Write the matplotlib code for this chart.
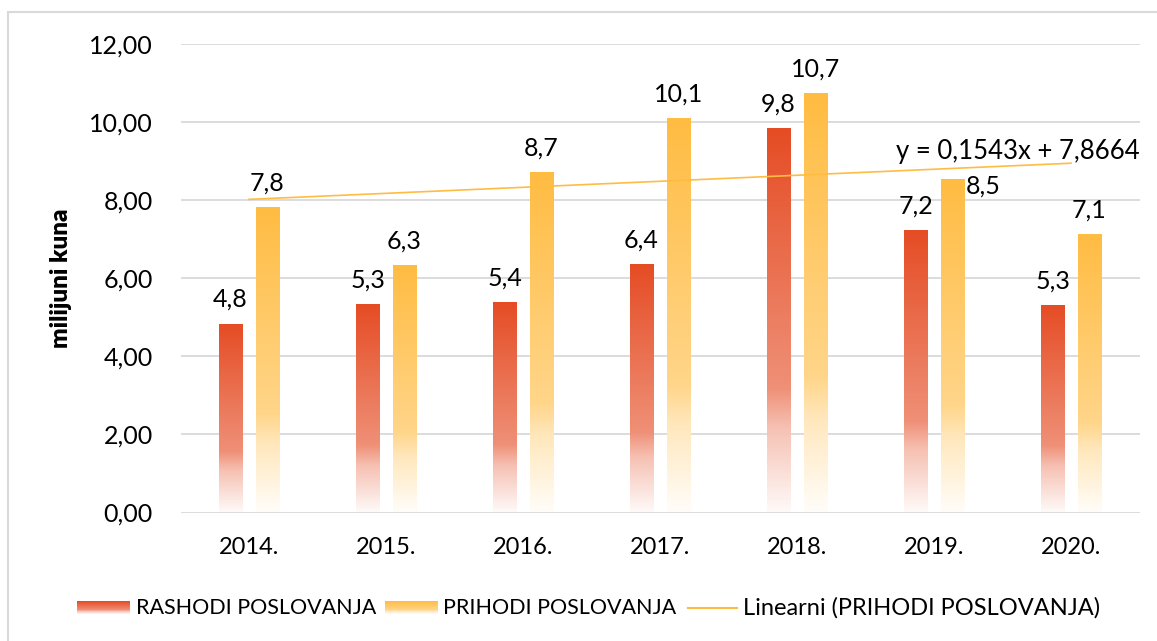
import numpy as np
import matplotlib
matplotlib.use("Agg")
import matplotlib.pyplot as plt
from matplotlib.patches import Rectangle

plt.rcParams['font.family'] = ['Lato', 'DejaVu Sans']

# data (milijuni kuna)
years = ['2014.', '2015.', '2016.', '2017.', '2018.', '2019.', '2020.']
rashodi = [4.84, 5.34, 5.38, 6.36, 9.84, 7.23, 5.32]
prihodi = [7.83, 6.33, 8.72, 10.10, 10.74, 8.53, 7.14]
trend_slope = 0.1543
trend_icept = 7.8664
yticks = [0, 2, 4, 6, 8, 10, 12]

RED = np.array([229, 76, 36]) / 255.
YEL = np.array([255, 188, 66]) / 255.


def gradient(base):
    # strong colour at top, fading to white at the bottom (Excel style)
    t = np.linspace(0, 1, 256)
    s = np.interp(t, [0, 0.22, 0.32, 1], [0.03, 0.35, 0.62, 1.0])
    rgb = (1 - s[:, None]) + s[:, None] * base[None, :]
    return rgb[:, None, :]


def fmt(v):
    return f"{v:.1f}".replace('.', ',')


fig = plt.figure(figsize=(11.57, 6.41), dpi=100)
ax = fig.add_axes([180.5 / 1157, 1 - 512.5 / 641, 959 / 1157, 468.5 / 641])

x = np.arange(len(years))
w = 0.168
off = 0.135

b1 = ax.bar(x - off, rashodi, w, facecolor='none', edgecolor='none', zorder=3)
b2 = ax.bar(x + off, prihodi, w, facecolor='none', edgecolor='none', zorder=3)

for bars, base in ((b1, RED), (b2, YEL)):
    img = gradient(base)
    for p in bars:
        x0, y0 = p.get_x(), p.get_y()
        im = ax.imshow(img, origin='lower', aspect='auto', zorder=2,
                       extent=[x0, x0 + p.get_width(), y0, y0 + p.get_height()],
                       interpolation='bilinear')
        im.set_clip_path(p)

# linear trend of PRIHODI (x = 1..7 in Excel)
xt = np.array([x[0], x[-1]])
ax.plot(xt, trend_slope * (xt + 1) + trend_icept, color='#ffbc42', lw=1.2, zorder=4)

ax.set_xlim(-0.5, len(years) - 0.5)
ax.set_ylim(0, 12)
ax.set_yticks(yticks)
ax.set_yticklabels([f"{v:.2f}".replace('.', ',') for v in yticks])
ax.set_xticks(x)
ax.set_xticklabels(years)
ax.tick_params(axis='both', length=0)
ax.tick_params(axis='y', pad=20, labelsize=18)
ax.tick_params(axis='x', pad=18, labelsize=17)
for s in ax.spines.values():
    s.set_visible(False)
ax.grid(axis='y', color='#d9d9d9', lw=1.3, zorder=0)
ax.set_axisbelow(True)
ax.set_ylabel('milijuni kuna', fontsize=17.5, fontweight='heavy', labelpad=12)

ax.bar_label(b1, labels=[fmt(v) for v in rashodi], padding=9, fontsize=18)
lab2 = [fmt(v) for v in prihodi]
lab2[5] = ''
ax.bar_label(b2, labels=lab2, padding=9, fontsize=18)
# 2019 label sits beside the bar in the original
p = b2[5]
ax.annotate(fmt(prihodi[5]), (p.get_x() + p.get_width(), p.get_height()),
            xytext=(1, -4.5), textcoords='offset points', ha='left', va='center',
            fontsize=18)

ax.text(1.0, 9.24, 'y = 0,1543x + 7,8664', transform=ax.get_yaxis_transform(),
        ha='right', va='center', fontsize=18.5)

# legend, drawn by hand so the swatches keep the gradient
ly = 1 - 607.5 / 641
for sx, base in ((77, RED), (385, YEL)):
    lax = fig.add_axes([sx / 1157, 1 - 614 / 641, 53 / 1157, 13 / 641])
    lax.imshow(gradient(base), origin='lower', aspect='auto', extent=[0, 1, 0, 1])
    lax.set_axis_off()
fig.add_artist(plt.Line2D([688 / 1157, 737 / 1157], [ly, ly], color='#ffbc42', lw=1.5))
fig.text(136 / 1157, ly, 'RASHODI POSLOVANJA', fontsize=15.5, va='center')
fig.text(443 / 1157, ly, 'PRIHODI POSLOVANJA', fontsize=15.5, va='center')
fig.text(743 / 1157, ly, 'Linearni (PRIHODI POSLOVANJA)', fontsize=17, va='center')

# chart area border (only left and top visible in the crop)
fig.add_artist(Rectangle((8 / 1157, -0.1), 2, 1.1 - 12 / 641, transform=fig.transFigure,
                         fill=False, edgecolor='#d9d9d9', lw=1.5))

fig.savefig('out.png', dpi=100)
